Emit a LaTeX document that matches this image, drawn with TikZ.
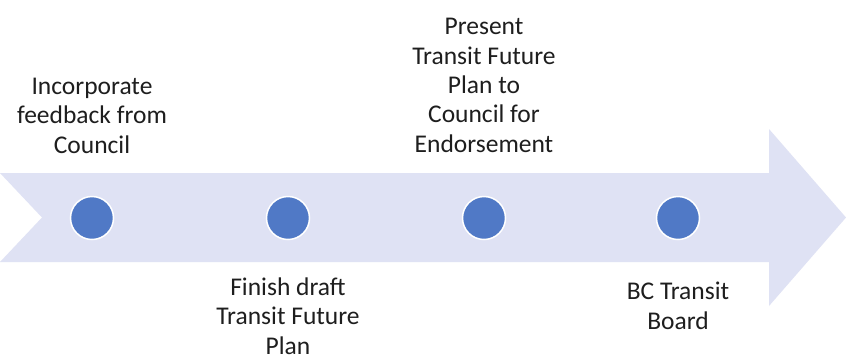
\documentclass[tikz,border=0pt]{standalone}
\usepackage{fontspec}
\setmainfont{Carlito}
\definecolor{bandcol}{RGB}{223,226,244}
\definecolor{dotcol}{RGB}{80,121,198}
\definecolor{txtcol}{RGB}{30,30,30}
\tikzset{
  band/.style={fill=bandcol, draw=none},
  dot/.style={circle, fill=dotcol, draw=white, line width=1.5pt, minimum size=43pt, inner sep=0pt},
  lbl/.style={align=center, inner sep=0pt, text=txtcol, font=\fontsize{25.5}{29.3}\selectfont, anchor=base}
}
\begin{document}
\begin{tikzpicture}[x=1pt,y=-1pt]
\useasboundingbox (0,0) rectangle (846,360);
\fill[white] (0,0) rectangle (846,360);
\path[band] (0,173) -- (769,173) -- (769,129) -- (846,217.5) -- (769,306) -- (769,262) -- (0,262) -- (42,217.5) -- cycle;
\node[dot] (d1) at (92,218) {};
\node[dot] (d2) at (288,218) {};
\node[dot] (d3) at (484,218) {};
\node[dot] (d4) at (678,218) {};
\node[lbl] (t1) at (92,153) {Incorporate\\feedback from\\Council};
\node[lbl] (t2) at (288,354) {Finish draft\\Transit Future\\Plan};
\node[lbl] (t3) at (484,152) {Present\\Transit Future\\Plan to\\Council for\\Endorsement};
\node[lbl] (t4) at (678,329) {BC Transit\\Board};
\end{tikzpicture}
\end{document}
